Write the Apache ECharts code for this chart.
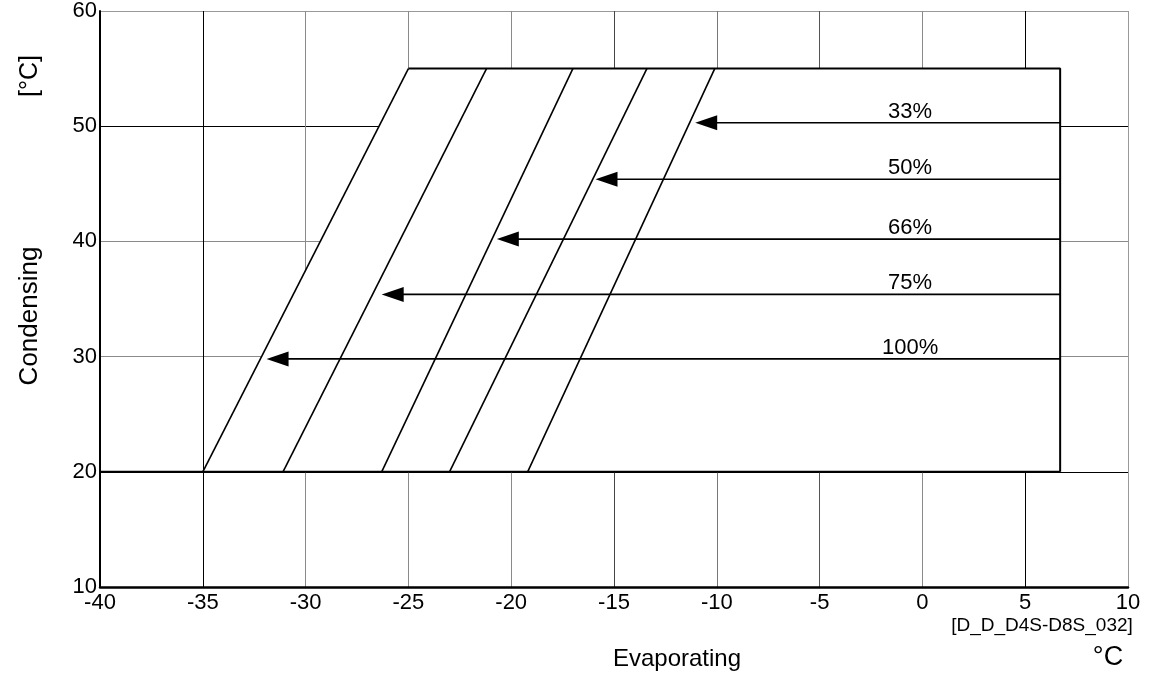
<!DOCTYPE html>
<html>
<head>
<meta charset="utf-8">
<script src="https://cdn.jsdelivr.net/npm/echarts@6/dist/echarts.min.js"></script>
<style>
html,body{margin:0;padding:0;background:#fff;}
#c{width:1156px;height:675px;}
</style>
</head>
<body>
<div id="c"></div>
<script>
// ---- data ----
const evapRange = [-40, 10];          // x axis (Evaporating, °C)
const condRange = [10, 60];           // y axis (Condensing, °C)
const evapStep = 5;
const condStep = 10;

const envelopeBottomCond = 20;
const envelopeTopCond = 55;
const envelopeLeftStartEvap = -40;
const envelopeRightEvap = 6.7;

const diagBottomEvap = [-35, -31.1, -26.3, -23.0, -19.2];
const diagTopEvap    = [-25, -21.2, -17.0, -13.4, -10.1];

const capacityLabels = ['100%', '75%', '66%', '50%', '33%'];
const arrowCond      = [29.8, 35.4, 40.2, 45.4, 50.3];
const arrowTipEvap   = [-31.9, -26.3, -20.7, -15.9, -11.05];
const labelEvap      = -0.6;

const xAxisName = 'Evaporating';
const xUnit = '°C';
const yAxisName = 'Condensing';
const yUnit = '[°C]';
const figureCode = '[D_D_D4S-D8S_032]';

// ---- chart ----
const FONT = '"Liberation Sans", Arial, sans-serif';
const xGridColors = ['#000', '#000', '#8a8a8a', '#8a8a8a', '#8a8a8a', '#444', '#777', '#555', '#8a8a8a', '#000', '#999'];
const yGridColors = ['#000', '#000', '#8a8a8a', '#8a8a8a', '#000', '#999'];

const envelopePoints = [
  [diagBottomEvap[0], envelopeBottomCond],
  [diagTopEvap[0], envelopeTopCond],
  [envelopeRightEvap, envelopeTopCond],
  [envelopeRightEvap, envelopeBottomCond]
];

const chart = echarts.init(document.getElementById('c'), null, {renderer: 'canvas'});

function txt(x, y, text, size, rot) {
  return {
    type: 'text', x: x, y: y, rotation: rot || 0,
    style: {text: text, font: size + 'px ' + FONT, fill: '#000',
            align: 'center', verticalAlign: 'middle', textAlign: 'center', textVerticalAlign: 'middle'}
  };
}

const option = {
  animation: false,
  backgroundColor: '#fff',
  grid: {left: 100, right: 28, top: 10, bottom: 88},
  xAxis: {
    type: 'value',
    min: evapRange[0], max: evapRange[1], interval: evapStep,
    axisLine: {show: true, onZero: false, lineStyle: {color: '#000', width: 2.5}},
    axisTick: {show: false},
    axisLabel: {color: '#000', fontSize: 22, fontFamily: FONT, margin: 5},
    splitLine: {show: true, lineStyle: {color: xGridColors, width: 1}}
  },
  yAxis: {
    type: 'value',
    min: condRange[0], max: condRange[1], interval: condStep,
    axisLine: {show: true, onZero: false, lineStyle: {color: '#000', width: 2}},
    axisTick: {show: false},
    axisLabel: {color: '#000', fontSize: 22, fontFamily: FONT, margin: 3},
    splitLine: {show: true, lineStyle: {color: yGridColors, width: 1}}
  },
  series: [
    {
      type: 'custom',
      z: 2,
      data: envelopePoints,
      encode: {x: 0, y: 1},
      renderItem: function (params, api) {
        if (params.dataIndex !== 0) return null;
        const pts = envelopePoints.map(p => api.coord(p));
        return {type: 'polygon', shape: {points: pts}, style: {fill: '#fff', stroke: null}};
      },
      silent: true
    },
    {
      type: 'line',
      z: 3,
      data: [[envelopeLeftStartEvap, envelopeBottomCond], [envelopeRightEvap, envelopeBottomCond]],
      symbol: 'none',
      lineStyle: {color: '#000', width: 2},
      silent: true
    },
    {
      type: 'line',
      z: 3,
      data: [[diagTopEvap[0], envelopeTopCond], [envelopeRightEvap, envelopeTopCond], [envelopeRightEvap, envelopeBottomCond]],
      symbol: 'none',
      lineStyle: {color: '#000', width: 2},
      silent: true
    },
    {
      type: 'lines',
      coordinateSystem: 'cartesian2d',
      z: 4,
      data: diagBottomEvap.map((b, i) => ({coords: [[b, envelopeBottomCond], [diagTopEvap[i], envelopeTopCond]]})),
      lineStyle: {color: '#000', width: 1.6, opacity: 1},
      silent: true
    },
    {
      type: 'custom',
      z: 5,
      data: arrowCond.map((y, i) => [arrowTipEvap[i], y, envelopeRightEvap]),
      encode: {x: [0, 2], y: 1},
      renderItem: function (params, api) {
        const tip = api.coord([api.value(0), api.value(1)]);
        const start = api.coord([api.value(2), api.value(1)]);
        const L = 22, H = 7.5;
        return {
          type: 'group',
          children: [
            {type: 'line', shape: {x1: start[0], y1: start[1], x2: tip[0] + L - 2, y2: tip[1]},
             style: {stroke: '#000', lineWidth: 1.6}},
            {type: 'polygon', shape: {points: [[tip[0], tip[1]], [tip[0] + L, tip[1] - H], [tip[0] + L, tip[1] + H]]},
             style: {fill: '#000'}}
          ]
        };
      },
      silent: true
    },
    {
      type: 'scatter',
      z: 6,
      symbolSize: 0,
      itemStyle: {opacity: 1, color: '#000'},
      data: arrowCond.map((y, i) => [labelEvap, y, capacityLabels[i]]),
      label: {
        show: true, position: 'top', distance: 0,
        formatter: p => p.value[2],
        color: '#000', opacity: 1, fontSize: 22, fontFamily: FONT
      },
      silent: true
    }
  ],
  graphic: [
    txt(677, 659, xAxisName, 24),
    txt(1108, 658, xUnit, 27),
    txt(1042, 626, figureCode, 19),
    txt(30, 316, yAxisName, 26, Math.PI / 2),
    txt(30, 76, yUnit, 25, Math.PI / 2)
  ]
};

chart.setOption(option);
</script>
</body>
</html>
